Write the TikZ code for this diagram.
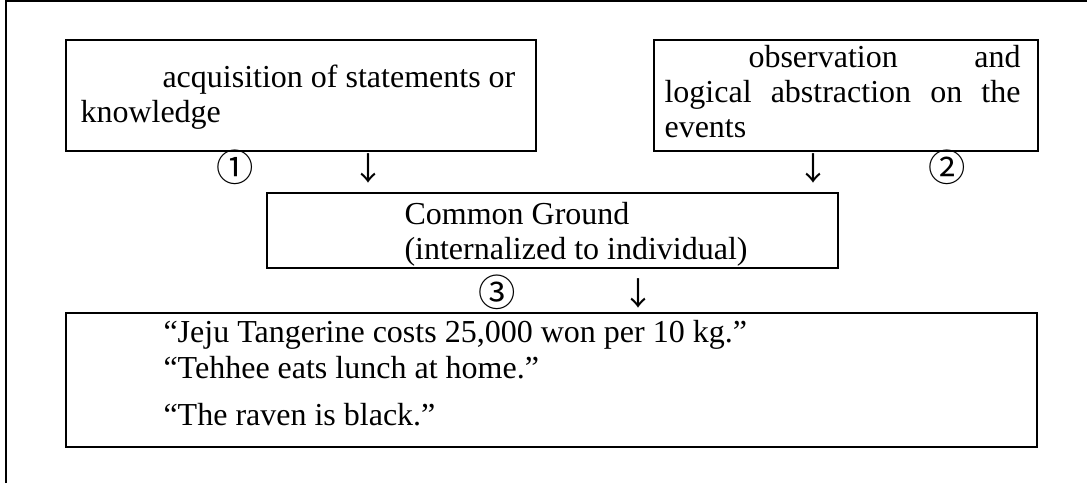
\documentclass[tikz,border=0pt]{standalone}
\usepackage{fontspec}
\setmainfont{Liberation Serif}
\newfontfamily\circfont{Noto Sans CJK JP}
\begin{document}
\begin{tikzpicture}[x=0.375pt,y=-0.375pt,
  frame/.style={line width=0.9pt},
  box/.style={draw, line width=0.9pt, rectangle, inner sep=0pt, anchor=north west},
  txt/.style={anchor=base west, inner sep=0pt, font=\fontsize{12pt}{13.2pt}\selectfont},
  arrowglyph/.style={anchor=center, inner sep=0pt, font=\circfont\fontsize{12pt}{13.2pt}\selectfont},
  circnum/.style={anchor=center, inner sep=0pt, font=\circfont\fontsize{14pt}{15pt}\selectfont}]
\useasboundingbox (0,0) rectangle (1087,483);
% outer frame (only top and left edges visible)
\coordinate (fbl) at (6,483);
\coordinate (ftl) at (6,1);
\coordinate (ftr) at (1087,1);
\draw[frame] (fbl) -- (ftl) -- (ftr);
% boxes
\node[box, minimum width=470*0.375pt, minimum height=111*0.375pt] (acq) at (65,39) {};
\node[box, minimum width=384*0.375pt, minimum height=111*0.375pt] (obs) at (653,39) {};
\node[box, minimum width=571*0.375pt, minimum height=75*0.375pt] (cg) at (266,192) {};
\node[box, minimum width=971*0.375pt, minimum height=134*0.375pt] (ex) at (65,312) {};
% box texts
\node[txt] (acq1) at (162,87) {acquisition of statements or};
\node[txt] (acq2) at (80,122) {knowledge};
\node[txt] (obs1) at (748,67) {\makebox[102pt][s]{observation and}};
\node[txt] (obs2) at (664,102) {\makebox[133.5pt][s]{logical abstraction on the}};
\node[txt] (obs3) at (664,137) {events};
\node[txt] (cg1) at (404,224) {Common Ground};
\node[txt] (cg2) at (404,259) {(internalized to individual)};
\node[txt] (ex1) at (163,342) {“Jeju Tangerine costs 25,000 won per 10 kg.”};
\node[txt] (ex2) at (163,378) {“Tehhee eats lunch at home.”};
\node[txt] (ex3) at (163,425) {“The raven is black.”};
% numbers and arrow glyphs
\node[circnum] (n1) at (235,167) {①};
\node[arrowglyph] (a1) at (368,168) {↓};
\node[arrowglyph] (a2) at (813,168) {↓};
\node[circnum] (n2) at (947,167) {②};
\node[circnum] (n3) at (497,292) {③};
\node[arrowglyph] (a3) at (638,293) {↓};
\end{tikzpicture}
\end{document}
